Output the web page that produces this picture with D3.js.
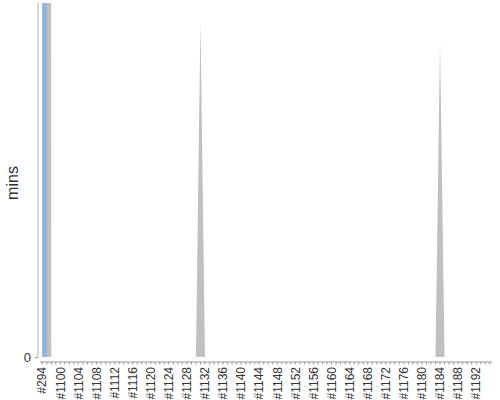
<!DOCTYPE html>
<html>
<head>
<meta charset="utf-8">
<script src="https://cdn.jsdelivr.net/npm/d3@7"></script>
<style>
  html, body { margin: 0; padding: 0; background: #fff; }
  svg { display: block; }
  text { font-family: "Liberation Sans", Arial, sans-serif; fill: #333; }
</style>
</head>
<body>
<svg id="chart" width="500" height="400"></svg>
<script>
// Build categories (x axis)
const builds = ["#294",
  "#1097","#1098","#1099","#1100","#1101","#1102","#1103","#1104","#1105","#1106",
  "#1107","#1108","#1109","#1110","#1111","#1112","#1113","#1114","#1115","#1116",
  "#1117","#1118","#1119","#1120","#1121","#1122","#1123","#1124","#1125","#1126",
  "#1127","#1128","#1129","#1130","#1131","#1132","#1133","#1134","#1135","#1136",
  "#1137","#1138","#1139","#1140","#1141","#1142","#1143","#1144","#1145","#1146",
  "#1147","#1148","#1149","#1150","#1151","#1152","#1153","#1154","#1155","#1156",
  "#1157","#1158","#1159","#1160","#1161","#1162","#1163","#1164","#1165","#1166",
  "#1167","#1168","#1169","#1170","#1171","#1172","#1173","#1174","#1175","#1176",
  "#1177","#1178","#1179","#1180","#1181","#1182","#1183","#1184","#1185","#1186",
  "#1187","#1188","#1189","#1190","#1191","#1192","#1193","#1194","#1195"];

// Grey area series (mins), one value per build
const greyMins = [3000,
  3000,0,0,0,0,0,0,0,0,0,
  0,0,0,0,0,0,0,0,0,0,
  0,0,0,0,0,0,0,0,0,0,
  0,0,0,0,95,0,0,0,0,0,
  0,0,0,0,0,0,0,0,0,0,
  0,0,0,0,0,0,0,0,0,0,
  0,0,0,0,0,0,0,0,0,0,
  0,0,0,0,0,0,0,0,0,0,
  0,0,0,0,0,0,0,89,0,0,
  0,0,0,0,0,0,0,0,0];

// Blue bar series (mins)
const blueBuilds = ["#294"];
const blueMins = [3000];

// Axis tick labels
const xTickLabels = ["#294","#1100","#1104","#1108","#1112","#1116","#1120","#1124","#1128",
  "#1132","#1136","#1140","#1144","#1148","#1152","#1156","#1160","#1164","#1168","#1172",
  "#1176","#1180","#1184","#1188","#1192"];
const yTicks = [0];
const yMax = 100;

const svg = d3.select("#chart");
const plotLeft = 40, plotRight = 492, plotTop = 3, plotBottom = 357;

const x = d3.scaleBand().domain(builds).range([plotLeft, plotRight]).paddingInner(0).paddingOuter(0);
const step = x.step();
const cx = d => x(d) + step / 2;
const y = d3.scaleLinear().domain([0, yMax]).range([plotBottom, plotTop]);

svg.append("defs").append("clipPath").attr("id", "plotclip")
  .append("rect").attr("x", 38).attr("y", plotTop)
  .attr("width", plotRight - 38).attr("height", plotBottom - plotTop);

const plot = svg.append("g").attr("clip-path", "url(#plotclip)");

const area = d3.area()
  .x((d, i) => cx(builds[i]))
  .y0(y(0))
  .y1(d => y(d));

plot.append("path")
  .datum(greyMins)
  .attr("d", area)
  .attr("fill", "#c0c0c0");

plot.selectAll("rect.bar")
  .data(blueBuilds.map((b, i) => ({ b, v: blueMins[i] })))
  .join("rect")
  .attr("class", "bar")
  .attr("x", d => cx(d.b))
  .attr("width", step)
  .attr("y", d => y(d.v))
  .attr("height", d => y(0) - y(d.v))
  .attr("fill", "#8db4e2");

// Y axis
const yAxis = d3.axisLeft(y).tickValues(yTicks).tickSize(3).tickPadding(4);
const gy = svg.append("g").attr("transform", "translate(38,0)").call(yAxis);
gy.select(".domain").attr("d", `M0,${plotTop}V${plotBottom + 1}`).attr("stroke", "#b0b0b0");
gy.selectAll(".tick line").attr("stroke", "#999");
gy.selectAll(".tick text").attr("font-size", 13).attr("fill", "#444")
  .attr("font-family", "Liberation Sans, Arial, sans-serif");

// X axis
const gx = svg.append("g").attr("transform", "translate(0,362)");
gx.append("line").attr("x1", plotLeft).attr("x2", plotRight).attr("y1", 0).attr("y2", 0)
  .attr("stroke", "#999");
gx.selectAll("line.minor").data(builds).join("line")
  .attr("class", "minor")
  .attr("x1", d => cx(d)).attr("x2", d => cx(d))
  .attr("y1", 0).attr("y2", 2.5)
  .attr("stroke", "#999");
gx.selectAll("text.xl").data(xTickLabels).join("text")
  .attr("class", "xl")
  .attr("transform", d => `translate(${cx(d)},5) rotate(-90)`)
  .attr("text-anchor", "end")
  .attr("dy", "0.35em")
  .attr("font-size", 12)
  .attr("fill", "#222")
  .text(d => d);

// Y label
svg.append("text")
  .attr("transform", "translate(12,183) rotate(-90)")
  .attr("text-anchor", "middle")
  .attr("dy", "0.35em")
  .attr("font-size", 16)
  .attr("fill", "#222")
  .text("mins");
</script>
</body>
</html>
